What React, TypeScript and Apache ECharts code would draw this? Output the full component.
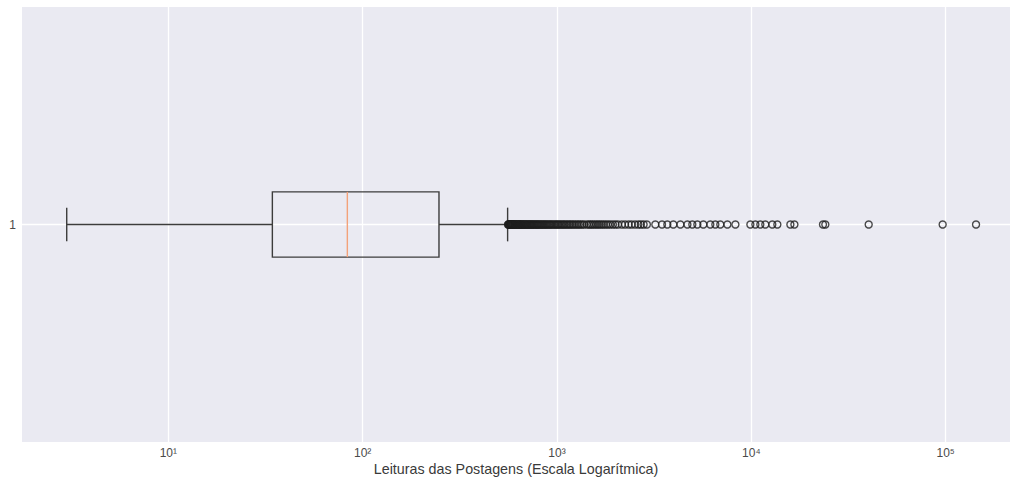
import React, { useEffect, useRef } from "react";
import * as echarts from "echarts";

// Box statistics: [lower whisker, Q1, median, Q3, upper whisker]
const categories = ["1"];
const boxStats = [3, 34.3, 83.4, 247, 557];
const outliers = [
  560, 562, 565, 568, 570, 573, 575, 578, 580, 583, 586, 590, 593, 596, 600, 604, 608, 612, 616, 620,
  625, 630, 634, 638, 643, 648, 653, 658, 664, 670, 676, 682, 688, 694, 700, 707, 714, 721, 728, 735,
  743, 750, 758, 766, 775, 784, 792, 800, 810, 820, 830, 840, 851, 862, 873, 885, 897, 910, 922, 935,
  950, 965, 980, 995, 1010, 1025, 1042, 1060, 1078, 1095, 1115, 1135, 1155, 1175, 1198, 1220, 1245,
  1270, 1295, 1320, 1350, 1380, 1427, 1460, 1490, 1520, 1555, 1590, 1625, 1660, 1700, 1740, 1785,
  1830, 1880, 1940, 1998, 2060, 2155, 2240, 2337, 2420, 2520, 2620, 2700, 2790, 2900,
  3206, 3470, 3696, 3969, 4315, 4688, 4970, 5275, 5663, 6151, 6528, 6923, 7528, 8279, 9886, 10490,
  11125, 11800, 12820, 13610, 15880, 16660, 23370, 24030, 40170, 96500, 143300,
];
const xTickExponents = [1, 2, 3, 4, 5];
const xTitle = "Leituras das Postagens (Escala Logarítmica)";

const SUP: Record<string, string> = { "0": "⁰", "1": "¹", "2": "²", "3": "³", "4": "⁴", "5": "⁵", "6": "⁶", "7": "⁷", "8": "⁸", "9": "⁹", "-": "⁻" };
const BOX_WIDTH = 0.3;
const CAP_WIDTH = 0.155;
const FONT = "Liberation Sans, Arial, sans-serif";

export default function App() {
  const ref = useRef<HTMLDivElement>(null);
  useEffect(() => {
    document.body.style.margin = "0";
    if (!ref.current) return;
    const chart = echarts.init(ref.current, undefined, { renderer: "svg" });
    const yPos = 1;
    const option: any = {
      animation: false,
      backgroundColor: "#ffffff",
      grid: {
        left: 22,
        right: 1,
        top: 7,
        bottom: 37,
        show: true,
        backgroundColor: "#EAEAF2",
        borderWidth: 0,
        containLabel: false,
        outerBoundsMode: "none",
      },
      xAxis: {
        type: "log",
        logBase: 10,
        min: 1.766,
        max: 214300,
        splitNumber: 5,
        name: xTitle,
        nameLocation: "middle",
        nameGap: 20,
        nameMoveOverlap: false,
        nameTextStyle: { color: "#3a3a3a", fontSize: 14.3, fontFamily: FONT },
        axisLine: { show: false },
        axisTick: { show: false },
        axisLabel: {
          color: "#4a4a4a",
          fontSize: 12,
          fontFamily: FONT,
          margin: 5,
          showMinLabel: false,
          showMaxLabel: false,
          formatter: (v: number) => {
            const e = Math.round(Math.log10(v));
            if (!xTickExponents.includes(e) || Math.abs(Math.log10(v) - e) > 1e-6) return "";
            return "10" + String(e).split("").map((c) => SUP[c]).join("");
          },
        },
        splitLine: {
          show: true,
          showMinLine: false,
          showMaxLine: false,
          lineStyle: { color: "#ffffff", width: 1.3 },
        },
      },
      yAxis: {
        type: "value",
        min: 0,
        max: 2,
        interval: 1,
        axisLine: { show: false },
        axisTick: { show: false },
        axisLabel: {
          color: "#4a4a4a",
          fontSize: 12,
          fontFamily: FONT,
          margin: 6,
          formatter: (v: number) => (v === 1 ? categories[0] : ""),
        },
        splitLine: {
          show: true,
          showMinLine: false,
          showMaxLine: false,
          lineStyle: { color: "#ffffff", width: 1.3 },
        },
      },
      series: [
        {
          type: "custom",
          z: 2,
          encode: { x: [1, 2, 3, 4, 5], y: 0 },
          data: [[yPos, ...boxStats]],
          renderItem: (params: any, api: any) => {
            const y = api.value(0);
            const lo = api.coord([api.value(1), y]);
            const q1 = api.coord([api.value(2), y]);
            const med = api.coord([api.value(3), y]);
            const q3 = api.coord([api.value(4), y]);
            const hi = api.coord([api.value(5), y]);
            const half = Math.abs(api.coord([api.value(1), y + BOX_WIDTH / 2])[1] - lo[1]);
            const capHalf = Math.abs(api.coord([api.value(1), y + CAP_WIDTH / 2])[1] - lo[1]);
            const stroke = { stroke: "#3c3c3c", lineWidth: 1.4, fill: "none" };
            return {
              type: "group",
              children: [
                { type: "line", shape: { x1: lo[0], y1: lo[1], x2: q1[0], y2: q1[1] }, style: stroke },
                { type: "line", shape: { x1: q3[0], y1: q3[1], x2: hi[0], y2: hi[1] }, style: stroke },
                { type: "line", shape: { x1: lo[0], y1: lo[1] - capHalf, x2: lo[0], y2: lo[1] + capHalf }, style: stroke },
                { type: "line", shape: { x1: hi[0], y1: hi[1] - capHalf, x2: hi[0], y2: hi[1] + capHalf }, style: stroke },
                { type: "rect", shape: { x: q1[0], y: q1[1] - half, width: q3[0] - q1[0], height: 2 * half }, style: stroke },
                { type: "line", shape: { x1: med[0], y1: med[1] - half, x2: med[0], y2: med[1] + half }, style: { stroke: "#F3A27A", lineWidth: 1.4 } },
              ],
            };
          },
        },
        {
          type: "scatter",
          z: 3,
          symbol: "circle",
          symbolSize: 7,
          itemStyle: { color: "none", borderColor: "#1e1e1e", borderWidth: 1.4 },
          data: outliers.map((v) => [v, yPos]),
        },
      ],
    };
    chart.setOption(option);
    return () => chart.dispose();
  }, []);
  return <div ref={ref} style={{ width: 1011, height: 479 }} />;
}
